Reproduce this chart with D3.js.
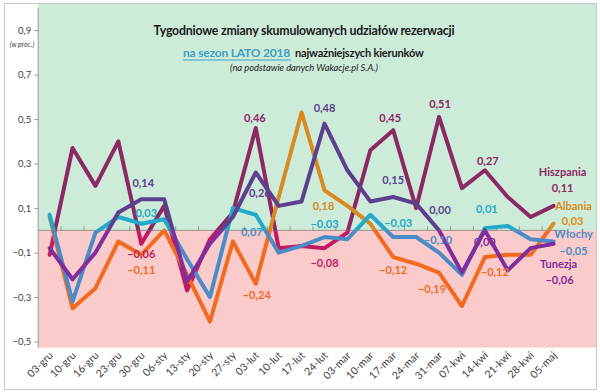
<!DOCTYPE html>
<html><head><meta charset="utf-8">
<script src="https://cdn.jsdelivr.net/npm/d3@7"></script>
<style>body{margin:0;background:#fff}svg{display:block}</style>
</head><body>
<script>
// ---------- DATA ----------
const categories = ["03-gru","10-gru","16-gru","23-gru","30-gru","06-sty","13-sty","20-sty","27-sty","03-lut","10-lut","17-lut","24-lut","03-mar","10-mar","17-mar","24-mar","31-mar","07-kwi","14-kwi","21-kwi","28-kwi","05-maj"];
const hiszpania = [-0.11,0.37,0.20,0.40,-0.06,0.11,-0.27,-0.04,0.08,0.46,-0.08,-0.07,-0.08,-0.01,0.36,0.45,0.10,0.51,0.19,0.27,0.15,0.06,0.11];
const albania   = [0.06,-0.35,-0.26,-0.05,-0.11,0.00,-0.20,-0.41,-0.05,-0.24,0.15,0.53,0.18,0.11,0.03,-0.12,-0.15,-0.19,-0.34,-0.12,-0.11,-0.11,0.03];
const wlochy    = [0.07,-0.32,-0.01,0.06,0.03,0.05,-0.13,-0.30,0.10,0.07,-0.10,-0.07,-0.03,-0.04,0.07,-0.03,-0.03,-0.10,-0.20,0.01,0.02,-0.04,-0.05];
const tunezja   = [-0.08,-0.22,-0.10,0.08,0.14,0.14,-0.23,-0.06,0.06,0.26,0.11,0.13,0.48,0.27,0.13,0.15,0.12,0.00,-0.19,0.00,-0.18,-0.08,-0.06];
const seriesNames = ["Hiszpania","Albania","Włochy","Tunezja"];
const labelIndices = [4,9,12,15,17,19];
const yTicks = [0.9,0.7,0.5,0.3,0.1,-0.1,-0.3,-0.5];
const titleLine1 = "Tygodniowe zmiany skumulowanych udziałów rezerwacji";
const titleLine2a = "na sezon LATO 2018";
const titleLine2b = "najważniejszych kierunków";
const titleLine3 = "(na podstawie danych Wakacje.pl S.A.)";
const yUnit = "(w proc.)";

// ---------- STYLE ----------
const series = [
  {name:seriesNames[0], values:hiszpania, top:"#8c2862", bot:"#c21a62",
   off:[[0,10],[-1,-10],[0,15],[-3,-12],[1,-13],[3,-9]], nameAt:[9,-34], valAt:[9,-18]},
  {name:seriesNames[1], values:albania, top:"#d88b22", bot:"#f26a1f",
   off:[[0,15],[1,11],[-1,16],[0,13],[-7,17],[10,15]], nameAt:[20,-18], valAt:[19,-3]},
  {name:seriesNames[2], values:wlochy, top:"#22a9cb", bot:"#4a8cc6",
   off:[[5,-11],[-4,17],[0,-13],[5,-14],[-1,-12],[2,-19]], nameAt:[20,-7.5], valAt:[20,9.5]},
  {name:seriesNames[3], values:tunezja, top:"#5c3f8f", bot:"#7f2e9c",
   off:[[2,-16],[4,21],[0,-15],[0,-17],[1,-20],[0,12]], nameAt:[5,20.5], valAt:[6,36.5]}
];
const FONT = "Lato, 'Open Sans', sans-serif";
const W=600,H=392;
const svg = d3.select("body").append("svg").attr("width",W).attr("height",H);

const x = d3.scaleBand().domain(categories).range([38.2,565]).padding(0);
const cx = c => x(c) + x.bandwidth()/2;
const y = d3.scaleLinear().domain([-0.5,0.9]).range([341.6,30.1]);
const y0 = y(0);
const fmt = v => d3.format(".2f")(v).replace(".",",").replace("-0,00","0,00");

// border
svg.append("rect").attr("x",4.5).attr("y",3.5).attr("width",592).attr("height",386)
  .attr("fill","#fff").attr("stroke","#c8c8c8");
// backgrounds
svg.append("rect").attr("x",38.2).attr("y",4).attr("width",596-38.2).attr("height",y0-4).attr("fill","#cdebd9");
svg.append("rect").attr("x",38.2).attr("y",y0).attr("width",596-38.2).attr("height",y(-0.527)-y0).attr("fill","#fbcbcb");

// y axis
const yAxis = svg.append("g").attr("transform","translate(38.2,0)")
  .call(d3.axisLeft(y).tickValues(yTicks).tickSize(4).tickFormat(d=>d3.format(".1f")(d).replace(".",",")));
yAxis.select(".domain").remove();
yAxis.selectAll("line").attr("stroke","#999");
yAxis.selectAll("text").attr("font-family",FONT).attr("font-size",9.5).attr("fill","#404040").attr("x",-7);
svg.append("line").attr("x1",38.2).attr("x2",38.2).attr("y1",y(1.0)).attr("y2",y(-0.527)).attr("stroke","#999");
svg.append("text").attr("x",22).attr("y",47).attr("text-anchor","middle").attr("font-family",FONT)
  .attr("font-size",7).attr("font-style","italic").attr("fill","#404040").text(yUnit);

// zero line with ticks
svg.append("line").attr("x1",38.2).attr("x2",565).attr("y1",y0).attr("y2",y0).attr("stroke","#9a8f8a");
svg.append("g").selectAll("line").data(categories.slice(1)).join("line")
  .attr("x1",d=>x(d)).attr("x2",d=>x(d)).attr("y1",y0).attr("y2",y0-4).attr("stroke","#9a8f8a");

// x labels
svg.append("g").selectAll("text").data(categories).join("text")
  .attr("transform",d=>`translate(${cx(d)+4},356) rotate(-45)`)
  .attr("text-anchor","end").attr("font-family",FONT).attr("font-size",10.5).attr("fill","#404040").text(d=>d);

// clip paths
const defs = svg.append("defs");
defs.append("clipPath").attr("id","cTop").append("rect").attr("x",0).attr("y",0).attr("width",W).attr("height",y0);
defs.append("clipPath").attr("id","cBot").append("rect").attr("x",0).attr("y",y0).attr("width",W).attr("height",H-y0);

const line = d3.line().x((d,i)=>cx(categories[i])).y(d=>y(d));
["top","bot"].forEach(region=>{
  const g = svg.append("g").attr("clip-path",`url(#c${region==="top"?"Top":"Bot"})`);
  series.forEach(s=>{
    g.append("path").attr("d",line(s.values)).attr("fill","none").attr("stroke",s[region])
      .attr("stroke-width",4).attr("stroke-linejoin","round").attr("stroke-linecap","round");
  });
  series.forEach(s=>{
    labelIndices.forEach((idx,k)=>{
      g.append("text").attr("x",cx(categories[idx])+s.off[k][0]).attr("y",y(s.values[idx])+s.off[k][1])
        .attr("dy","0.35em").attr("text-anchor","middle").attr("font-family",FONT).attr("font-weight","bold")
        .attr("font-size",11).attr("fill",s[region]).text(fmt(s.values[idx]));
    });
    const last = s.values.length-1, px = cx(categories[last]), py = y(s.values[last]);
    g.append("text").attr("x",px+s.nameAt[0]).attr("y",py+s.nameAt[1]).attr("dy","0.35em").attr("text-anchor","middle")
      .attr("font-family",FONT).attr("font-weight","bold").attr("font-size",11).attr("fill",s[region]).text(s.name);
    g.append("text").attr("x",px+s.valAt[0]).attr("y",py+s.valAt[1]).attr("dy","0.35em").attr("text-anchor","middle")
      .attr("font-family",FONT).attr("font-weight","bold").attr("font-size",11).attr("fill",s[region]).text(fmt(s.values[last]));
  });
});

// title: fit font size so the natural width matches the reference width
function fitText(sel, target, base){
  sel.attr("font-size", base);
  const w = sel.node().getComputedTextLength();
  sel.attr("font-size", base * target / w);
  return sel;
}
fitText(svg.append("text").attr("x",304).attr("y",35).attr("text-anchor","middle").attr("font-family",FONT)
  .attr("font-weight","bold").attr("fill","#1a1a1a").attr("letter-spacing",-0.2).text(titleLine1), 303, 15);
const t2a = fitText(svg.append("text").attr("x",183).attr("y",57).attr("font-family",FONT)
  .attr("font-weight","bold").attr("fill","#3d9fc4").attr("letter-spacing",-0.2).text(titleLine2a), 108, 15);
svg.append("line").attr("x1",183).attr("x2",291).attr("y1",60).attr("y2",60).attr("stroke","#3d9fc4").attr("stroke-width",1.2);
fitText(svg.append("text").attr("x",295).attr("y",57).attr("font-family",FONT)
  .attr("font-weight","bold").attr("fill","#1a1a1a").attr("letter-spacing",-0.2).text(titleLine2b), 130, 15);
fitText(svg.append("text").attr("x",304).attr("y",71).attr("text-anchor","middle").attr("font-family",FONT)
  .attr("font-style","italic").attr("fill","#1a1a1a").text(titleLine3), 148, 10);
</script>
</body></html>
